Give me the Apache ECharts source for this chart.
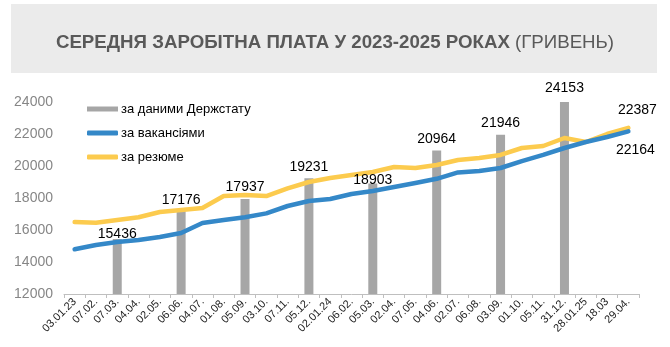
<!DOCTYPE html>
<html>
<head>
<meta charset="utf-8">
<script src="https://cdn.jsdelivr.net/npm/echarts@6/dist/echarts.min.js"></script>
<style>html,body{margin:0;padding:0;background:#fff;}#c{width:670px;height:347px;}</style>
</head>
<body>
<div id="c"></div>
<script>
const categories = ['03.01.23','07.02.','07.03.','04.04.','02.05.','06.06.','04.07.','01.08.','05.09.','03.10.','07.11.','05.12.','02.01.24','06.02.','05.03.','02.04.','07.05.','04.06.','02.07.','06.08.','03.09.','01.10.','05.11.','31.12.','28.01.25','18.03','29.04.'];
const statData = [null,null,15436,null,null,17176,null,null,17937,null,null,19231,null,null,18903,null,null,20964,null,null,21946,null,null,24153,null,null,null];
const vacancies = [14800,15060,15250,15375,15560,15810,16440,16625,16800,17040,17500,17810,17940,18250,18440,18690,18940,19200,19600,19690,19875,20310,20690,21125,21500,21810,22164];
const resumes = [16500,16450,16620,16800,17125,17250,17375,18125,18190,18120,18600,19000,19250,19440,19625,19940,19875,20060,20375,20500,20690,21125,21250,21750,21500,22000,22387];
const yTicks = {min:12000, max:24000, interval:2000};
const seriesNames = ['за даними Держстату','за вакансіями','за резюме'];

const chart = echarts.init(document.getElementById('c'), null, {renderer:'canvas'});
const font = 'Liberation Sans, Arial, sans-serif';
const labelDist = {2:-2, 14:-3.5, 23:7};
const barData = statData.map(v=> v==null ? '-' : v);
const barLabelData = statData.map((v,i)=> v==null ? '-' : {value:v, label:{distance: (i in labelDist) ? labelDist[i] : 4.5}});
const last = vacancies.length-1;
const vacData = vacancies.map((v,i)=> i===last ? {value:v, label:{show:true, position:'bottom', distance:12, offset:[7,0]}} : v);
const resData = resumes.map((v,i)=> i===last ? {value:v, label:{show:true, position:'top', distance:11, offset:[9,0]}} : v);

chart.setOption({
  animation:false,
  backgroundColor:'#ffffff',
  graphic:[{type:'rect', z:-10, shape:{x:11,y:4,width:646,height:69}, style:{fill:'#ebebeb'}}],
  title:{
    text:'{b|СЕРЕДНЯ ЗАРОБІТНА ПЛАТА У 2023-2025 РОКАХ} {n|(ГРИВЕНЬ)}',
    left:'center', top:28,
    textStyle:{rich:{
      b:{fontFamily:font, fontWeight:'bold', fontSize:18.7, color:'#595959'},
      n:{fontFamily:font, fontWeight:'normal', fontSize:18.7, color:'#595959'}
    }}
  },
  legend:{
    orient:'vertical', left:87, top:102, padding:0, itemWidth:31, itemHeight:5, itemGap:10,
    textStyle:{fontFamily:font, fontSize:13, color:'#000', lineHeight:14, padding:[0,0,0,-2]},
    data:[
      {name:seriesNames[0], icon:'rect'},
      {name:seriesNames[1], icon:'roundRect'},
      {name:seriesNames[2], icon:'roundRect'}
    ]
  },
  grid:{left:64, right:31, top:102, bottom:53, containLabel:false},
  xAxis:{
    type:'category', data:categories, boundaryGap:true,
    axisLine:{lineStyle:{color:'#bfbfbf', width:1}},
    axisTick:{show:true, length:4, lineStyle:{color:'#bfbfbf'}},
    axisLabel:{interval:0, rotate:45, fontFamily:font, fontSize:11, color:'#222', margin:6}
  },
  yAxis:{
    type:'value', min:yTicks.min, max:yTicks.max, interval:yTicks.interval,
    splitLine:{show:false}, axisLine:{show:false}, axisTick:{show:false},
    axisLabel:{fontFamily:font, fontSize:14, color:'#868686', margin:11, formatter:(v)=>String(v)}
  },
  series:[
    {name:seriesNames[0], type:'bar', data:barData, barWidth:9, barGap:'-100%', itemStyle:{color:'#a6a6a6'}, z:1},
    {name:'labels', type:'bar', data:barLabelData, barWidth:9, barGap:'-100%', itemStyle:{color:'rgba(0,0,0,0)'},
     silent:true, legendHoverLink:false, z:5,
     label:{show:true, position:'top', fontFamily:font, fontSize:14, color:'#000'}},
    {name:seriesNames[1], type:'line', data:vacData, symbol:'circle', symbolSize:0, showSymbol:true,
     lineStyle:{color:'#3488c8', width:4.5, cap:'round', join:'round'}, itemStyle:{color:'#3488c8'},
     label:{fontFamily:font, fontSize:14, color:'#000'}, z:3},
    {name:seriesNames[2], type:'line', data:resData, symbol:'circle', symbolSize:0, showSymbol:true,
     lineStyle:{color:'#fccb4e', width:4.5, cap:'round', join:'round'}, itemStyle:{color:'#fccb4e'},
     label:{fontFamily:font, fontSize:14, color:'#000'}, z:2}
  ]
});
</script>
</body>
</html>
